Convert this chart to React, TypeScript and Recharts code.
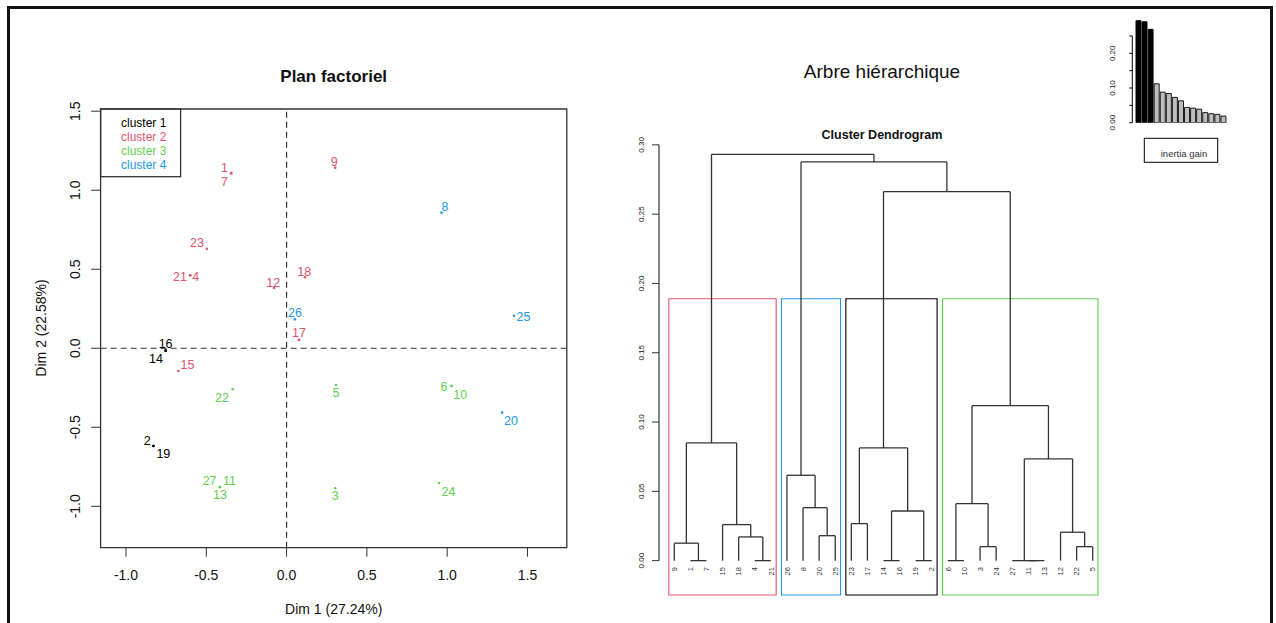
import React from 'react';
import {
  ScatterChart,
  Scatter,
  ComposedChart,
  BarChart,
  Bar,
  Cell,
  XAxis,
  YAxis,
  ReferenceLine,
  ReferenceArea,
} from 'recharts';

// individuals on the first factorial plane
const indLabels = ['1', '2', '3', '4', '5', '6', '7', '8', '9', '10', '11', '12', '13', '14', '15', '16', '17', '18', '19', '20', '21', '22', '23', '24', '25', '26', '27'];
const dim1 = [-0.345, -0.829, 0.303, -0.6, 0.308, 1.027, -0.345, 0.965, 0.303, 1.027, -0.415, -0.078, -0.415, -0.753, -0.674, -0.753, 0.077, 0.115, -0.829, 1.342, -0.6, -0.336, -0.496, 0.949, 1.416, 0.052, -0.415];
const dim2 = [1.108, -0.618, -0.886, 0.462, -0.232, -0.239, 1.108, 0.858, 1.143, -0.239, -0.878, 0.382, -0.878, -0.015, -0.144, -0.015, 0.053, 0.449, -0.618, -0.407, 0.462, -0.26, 0.63, -0.853, 0.206, 0.183, -0.878];
const indCluster = [2, 1, 3, 2, 3, 3, 2, 4, 2, 3, 3, 2, 3, 1, 2, 1, 2, 2, 1, 4, 2, 3, 2, 3, 4, 4, 3];

const clusterNames = ['cluster 1', 'cluster 2', 'cluster 3', 'cluster 4'];
const clusterColors = ['#000000', '#DF536B', '#61D04F', '#2297E6'];
const planTicks = [-1, -0.5, 0, 0.5, 1, 1.5];

// dendrogram: leaf order and merges (leaf label or 'mN' for the N-th merge, height)
const leafOrder = ['9', '1', '7', '15', '18', '4', '21', '26', '8', '20', '25', '23', '17', '14', '16', '19', '2', '6', '10', '3', '24', '27', '11', '13', '12', '22', '5'];
const merges: [string, string, number][] = [
  ['1', '7', 0],
  ['9', 'm1', 0.0126],
  ['4', '21', 0],
  ['18', 'm3', 0.0171],
  ['15', 'm4', 0.026],
  ['m2', 'm5', 0.0849],
  ['20', '25', 0.018],
  ['8', 'm7', 0.0382],
  ['26', 'm8', 0.0616],
  ['23', '17', 0.0267],
  ['14', '16', 0],
  ['19', '2', 0],
  ['m11', 'm12', 0.0358],
  ['m10', 'm13', 0.0813],
  ['6', '10', 0],
  ['3', '24', 0.0101],
  ['m15', 'm16', 0.0411],
  ['11', '13', 0],
  ['27', 'm18', 0],
  ['22', '5', 0.0101],
  ['12', 'm20', 0.0205],
  ['m19', 'm21', 0.0734],
  ['m17', 'm22', 0.1118],
  ['m14', 'm23', 0.2662],
  ['m9', 'm24', 0.2877],
  ['m6', 'm25', 0.2932],
];
const boxClusters = [2, 4, 1, 3];
const boxSizes = [7, 4, 6, 10];
const dendroTicks = [0, 0.05, 0.1, 0.15, 0.2, 0.25, 0.3];

// inertia gain (inset)
const inertiaGain = [0.294, 0.291, 0.269, 0.112, 0.088, 0.084, 0.073, 0.063, 0.044, 0.042, 0.039, 0.029, 0.026, 0.024, 0.019];
const gainTicks = [0, 0.05, 0.1, 0.15, 0.2, 0.25];
const gainLabelled = [0, 0.1, 0.2];

// label placement around each point (px)
const labelOffsets: Record<string, [number, number]> = {
  '1': [-6.6, -5.6], '7': [-6.6, 8.4], '9': [-1, -5.4], '8': [3.5, -5.4], '23': [-10, -5.4],
  '21': [-10.3, 1.4], '4': [5.4, 1.4], '12': [-0.8, -5.3], '18': [-0.8, -5.6], '26': [0, -6],
  '25': [9.5, 1.6], '17': [0, -6.7], '16': [0, -6.4], '14': [-9.6, 8.3], '15': [9.2, -6],
  '22': [-10.7, 9], '5': [0, 8.3], '6': [-7.6, 1.3], '10': [8.8, 9], '20': [8.9, 8],
  '2': [-6.2, -5.3], '19': [9.9, 8.3], '27': [-10.3, -5.7], '11': [9.6, -5.7], '13': [0, 8.3],
  '3': [0, 8], '24': [9.5, 9],
};

const FONT = '"Liberation Sans", Arial, Helvetica, sans-serif';
const INK = '#333';

const xDom: [number, number] = [-1.158, 1.745];
const yDom: [number, number] = [-1.262, 1.514];
const dxDom: [number, number] = [-0.95, 26.95];
const dyDom: [number, number] = [-0.0248, 0.31];

const points = indLabels.map((label, i) => ({ label, x: dim1[i], y: dim2[i], cluster: indCluster[i] }));

// dendrogram layout from merges
const nodeX: Record<string, number> = {};
const nodeH: Record<string, number> = {};
leafOrder.forEach((l, i) => {
  nodeX[l] = i;
  nodeH[l] = 0;
});
const segments: { x1: number; y1: number; x2: number; y2: number }[] = [];
merges.forEach(([a, b, h], i) => {
  const xa = nodeX[a];
  const xb = nodeX[b];
  segments.push({ x1: xa, y1: nodeH[a], x2: xa, y2: h });
  segments.push({ x1: xa, y1: h, x2: xb, y2: h });
  segments.push({ x1: xb, y1: h, x2: xb, y2: nodeH[b] });
  nodeX['m' + (i + 1)] = (xa + xb) / 2;
  nodeH['m' + (i + 1)] = h;
});
const sortedH = merges.map((m) => m[2]).sort((a, b) => b - a);
const boxTop = (sortedH[boxClusters.length - 2] + sortedH[boxClusters.length - 1]) / 2;
const boxes = boxSizes.map((n, i) => {
  const first = boxSizes.slice(0, i).reduce((s, v) => s + v, 0);
  return { x1: first - 0.34, x2: first + n - 1 + 0.33, color: clusterColors[boxClusters[i] - 1] };
});
const leafData = leafOrder.map((label, i) => ({ label, x: i, y: 0 }));
const gainData = inertiaGain.map((gain, i) => ({ k: i + 1, gain }));

const RotTick = (props: any) => {
  const { x, y, payload, fontSize, shift, digits, only } = props;
  if (only && !only.some((v: number) => Math.abs(v - payload.value) < 1e-9)) return <g />;
  return (
    <text
      transform={`translate(${x + shift},${y}) rotate(-90)`}
      textAnchor="middle"
      fontSize={fontSize}
      fontFamily={FONT}
      fill="#111"
    >
      {Number(payload.value).toFixed(digits)}
    </text>
  );
};

const PointMark = (props: any) => {
  const { cx, cy, payload } = props;
  const color = clusterColors[payload.cluster - 1];
  const [dx, dy] = labelOffsets[payload.label] ?? [0, -6];
  return (
    <g>
      <circle cx={cx} cy={cy} r={1.3} fill={color} />
      <text
        x={cx + dx}
        y={cy + dy}
        fill={color}
        fontSize={12.5}
        fontFamily={FONT}
        textAnchor="middle"
        dominantBaseline="central"
      >
        {payload.label}
      </text>
    </g>
  );
};

const LeafLabel = (props: any) => {
  const { cx, cy, payload } = props;
  return (
    <text
      transform={`translate(${cx + 2.7},${cy + 6.5}) rotate(-90)`}
      textAnchor="end"
      fontSize={7.5}
      fontFamily={FONT}
      fill="#333"
    >
      {payload.label}
    </text>
  );
};

function FactorMap() {
  return (
    <ScatterChart width={600} height={623} margin={{ top: 109, right: 33.2, bottom: 25.3, left: 40.6 }}>
      <XAxis
        type="number"
        dataKey="x"
        domain={xDom}
        allowDataOverflow
        ticks={planTicks}
        interval={0}
        tickFormatter={(v) => Number(v).toFixed(1)}
        axisLine={false}
        tickSize={9}
        tickMargin={13.3}
        height={50}
        stroke={INK}
        tick={{ fontSize: 14, fill: '#111', fontFamily: FONT }}
      />
      <YAxis
        type="number"
        dataKey="y"
        domain={yDom}
        allowDataOverflow
        ticks={planTicks}
        interval={0}
        axisLine={false}
        tickSize={9.5}
        width={60}
        stroke={INK}
        tick={<RotTick fontSize={14} shift={-8.7} digits={1} />}
      />
      <ReferenceArea x1={xDom[0]} x2={xDom[1]} y1={yDom[0]} y2={yDom[1]} fill="none" stroke={INK} strokeWidth={1.3} ifOverflow="visible" />
      <ReferenceLine x={0} stroke={INK} strokeDasharray="6 4" strokeWidth={1.2} />
      <ReferenceLine y={0} stroke={INK} strokeDasharray="6 4" strokeWidth={1.2} />
      {clusterNames.map((name, c) => (
        <Scatter
          key={name}
          name={name}
          data={points.filter((p) => p.cluster === c + 1)}
          fill={clusterColors[c]}
          shape={<PointMark />}
          isAnimationActive={false}
        />
      ))}
    </ScatterChart>
  );
}

function Dendrogram() {
  return (
    <ComposedChart width={520} height={523} margin={{ top: 31, right: 12, bottom: 28, left: 19 }}>
      <XAxis type="number" dataKey="x" domain={dxDom} allowDataOverflow hide />
      <YAxis
        type="number"
        dataKey="y"
        domain={dyDom}
        allowDataOverflow
        ticks={dendroTicks}
        interval={0}
        axisLine={false}
        tickSize={7}
        width={40}
        stroke={INK}
        tick={<RotTick fontSize={8} shift={-6} digits={2} />}
      />
      <ReferenceLine
        segment={[{ x: dxDom[0], y: 0 }, { x: dxDom[0], y: dendroTicks[dendroTicks.length - 1] }]}
        stroke={INK}
        strokeWidth={1.2}
        ifOverflow="visible"
      />
      {boxes.map((b, i) => (
        <ReferenceArea
          key={'box' + i}
          x1={b.x1}
          x2={b.x2}
          y1={dyDom[0]}
          y2={boxTop}
          fill="none"
          stroke={b.color}
          strokeWidth={1.1}
          ifOverflow="visible"
        />
      ))}
      {segments.map((s, i) => (
        <ReferenceLine
          key={'seg' + i}
          segment={[{ x: s.x1, y: s.y1 }, { x: s.x2, y: s.y2 }]}
          stroke={INK}
          strokeWidth={1.3}
          ifOverflow="visible"
        />
      ))}
      <Scatter data={leafData} shape={<LeafLabel />} isAnimationActive={false} />
    </ComposedChart>
  );
}

function GainInset() {
  return (
    <BarChart width={186} height={180} data={gainData} margin={{ top: 18.6, right: 47.3, bottom: 57.3, left: 12.3 }}>
      <XAxis type="number" dataKey="k" domain={[0.06, 15.94]} allowDataOverflow hide />
      <YAxis
        type="number"
        domain={[0, 0.3]}
        allowDataOverflow
        ticks={gainTicks}
        interval={0}
        axisLine={false}
        tickSize={3}
        width={30}
        stroke="#000"
        tick={<RotTick fontSize={8} shift={-12.3} digits={2} only={gainLabelled} />}
      />
      <ReferenceLine
        segment={[{ x: 0.06, y: 0 }, { x: 0.06, y: gainTicks[gainTicks.length - 1] }]}
        stroke="#000"
        strokeWidth={1}
        ifOverflow="visible"
      />
      <Bar dataKey="gain" barSize={5} stroke="#000" strokeWidth={0.9} isAnimationActive={false}>
        {gainData.map((d, i) => (
          <Cell key={d.k} fill={i < boxClusters.length - 1 ? '#000000' : '#BEBEBE'} />
        ))}
      </Bar>
    </BarChart>
  );
}

export default function App() {
  return (
    <div
      style={{
        position: 'absolute',
        left: 0,
        top: 0,
        width: 1276,
        height: 623,
        overflow: 'hidden',
        background: '#fff',
        fontFamily: FONT,
      }}
    >
      <div style={{ position: 'absolute', left: 0, top: 0 }}>
        <FactorMap />
      </div>
      <div style={{ position: 'absolute', left: 600, top: 100 }}>
        <Dendrogram />
      </div>
      <div style={{ position: 'absolute', left: 1090, top: 0 }}>
        <GainInset />
      </div>
      <svg width={1276} height={623} style={{ position: 'absolute', left: 0, top: 0, pointerEvents: 'none' }}>
        <text x={333.7} y={81.7} textAnchor="middle" fontSize={17} fontWeight="bold" fontFamily={FONT} fill="#111">
          Plan factoriel
        </text>
        <text x={333.7} y={614} textAnchor="middle" fontSize={14} fontFamily={FONT} fill="#111">
          Dim 1 (27.24%)
        </text>
        <text transform="translate(45.5,328) rotate(-90)" textAnchor="middle" fontSize={14} fontFamily={FONT} fill="#111">
          Dim 2 (22.58%)
        </text>
        <rect x={100.6} y={109} width={80} height={67.7} fill="none" stroke={INK} strokeWidth={1.3} />
        {clusterNames.map((name, c) => (
          <text key={name} x={121} y={127.3 + c * 13.8} fontSize={12} fontFamily={FONT} fill={clusterColors[c]}>
            {name}
          </text>
        ))}
        <text x={882} y={78.3} textAnchor="middle" fontSize={19} fontFamily={FONT} fill="#111">
          Arbre hiérarchique
        </text>
        <text x={882} y={139.3} textAnchor="middle" fontSize={12.5} fontWeight="bold" fontFamily={FONT} fill="#111">
          Cluster Dendrogram
        </text>
        <rect x={1144.3} y={138.3} width={73.4} height={24} fill="none" stroke="#000" strokeWidth={1} />
        <text x={1184} y={156.7} textAnchor="middle" fontSize={9.5} fontFamily={FONT} fill="#333">
          inertia gain
        </text>
      </svg>
      <div
        style={{
          position: 'absolute',
          left: 7,
          top: 6,
          width: 1266,
          height: 700,
          border: '3px solid #111',
          boxSizing: 'border-box',
          pointerEvents: 'none',
        }}
      />
    </div>
  );
}
